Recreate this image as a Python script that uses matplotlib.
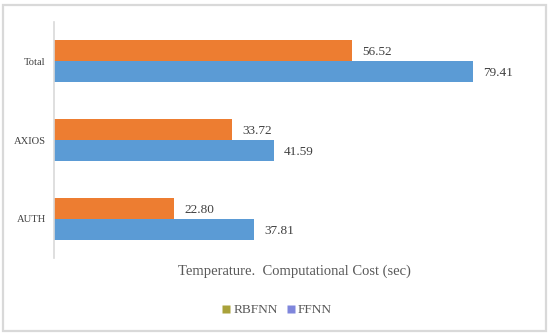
import matplotlib
matplotlib.use("Agg")
import matplotlib.pyplot as plt
from matplotlib.patches import Rectangle
from matplotlib.lines import Line2D
import numpy as np

categories = ["AUTH", "AXIOS", "Total"]
rbfnn = [22.80, 33.72, 56.52]
ffnn = [37.81, 41.59, 79.41]
series_names = ["RBFNN", "FFNN"]
title = "Temperature.  Computational Cost (sec)"

plt.rcParams["font.family"] = ["Liberation Serif", "DejaVu Serif"]

fig = plt.figure(figsize=(5.5, 3.35), dpi=100)
ax = fig.add_axes([54/550, 77/335, 475/550, 236/335])

y = np.arange(len(categories))
h = 0.266
c_or = "#ED7D31"
c_bl = "#5B9BD5"
b1 = ax.barh(y + h/2, rbfnn, height=h, color=c_or, zorder=2)
b2 = ax.barh(y - h/2, ffnn, height=h, color=c_bl, zorder=2)

for bars, vals in ((b1, rbfnn), (b2, ffnn)):
    for bar, v in zip(bars, vals):
        ax.annotate(f"{v:.2f}", xy=(bar.get_width(), bar.get_y() + bar.get_height()/2),
                    xytext=(7.5, -1), textcoords="offset points",
                    ha="left", va="center", fontsize=9.5, color="#404040")

ax.set_xlim(0, 90)
ax.set_ylim(-0.5, len(categories) - 0.5)
ax.set_yticks(y)
ax.set_yticklabels(categories, fontsize=7.6, color="#404040")
ax.tick_params(axis="y", length=0, pad=6)
ax.set_xticks([])
for s in ("top", "right", "bottom"):
    ax.spines[s].set_visible(False)
ax.spines["left"].set_color("#D9D9D9")
ax.spines["left"].set_linewidth(1.2)

fig.text(294/550, 1 - 271/335, title, ha="center", va="center",
         fontsize=10.5, color="#595959")

handles = [Line2D([], [], marker="s", linestyle="none", markersize=5.5,
                  markerfacecolor="#A9A23A", markeredgecolor="none"),
           Line2D([], [], marker="s", linestyle="none", markersize=5.5,
                  markerfacecolor="#7F86DC", markeredgecolor="none")]
fig.legend(handles, series_names, loc="center", bbox_to_anchor=(277/550, 1 - 310/335),
           ncol=2, frameon=False, fontsize=9.6, handlelength=0.6, handletextpad=0.2,
           columnspacing=0.7, labelcolor="#595959")

fig.patches.append(Rectangle((3/550, 4/335), 543/550, 326/335, transform=fig.transFigure,
                             fill=False, edgecolor="#D9D9D9", linewidth=1.6))

fig.savefig("out.png", dpi=100)
